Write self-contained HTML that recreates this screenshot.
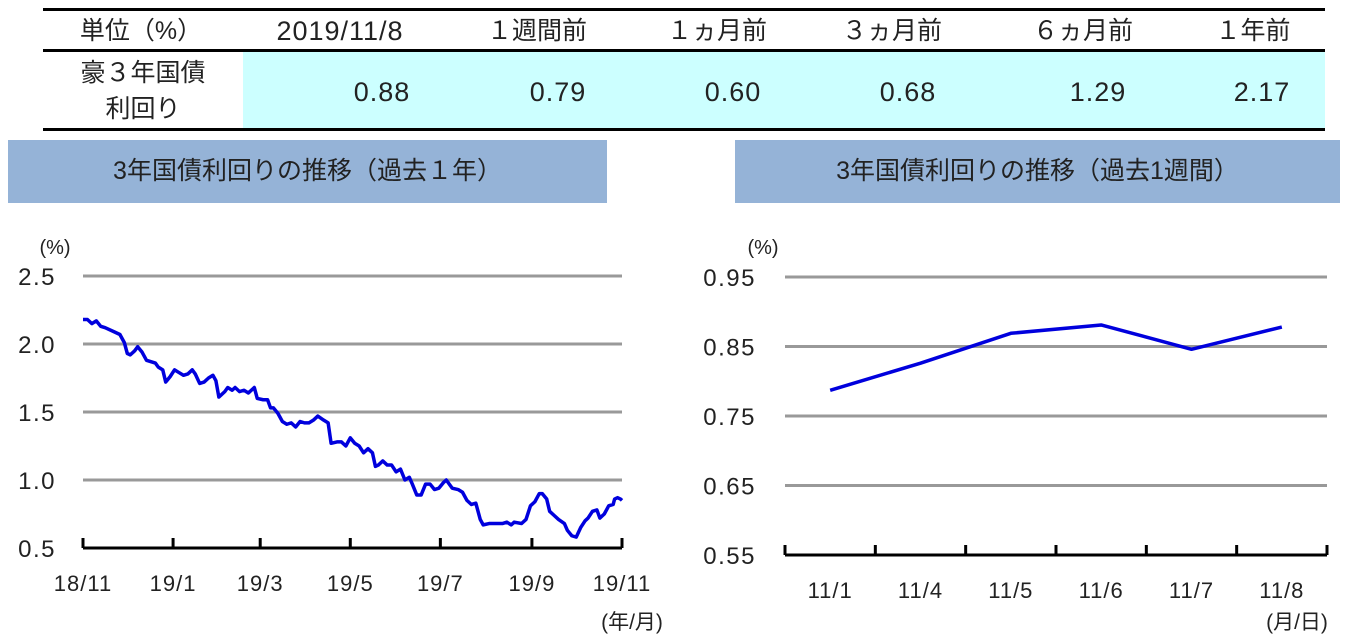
<!DOCTYPE html>
<html><head><meta charset="utf-8">
<style>
body{margin:0;width:1346px;height:636px;background:#fff;font-family:"Liberation Sans","Noto Sans CJK JP",sans-serif;overflow:hidden;position:relative}
.t{position:absolute;color:#222;text-align:center;width:200px;margin-left:-100px;line-height:30px;white-space:nowrap}
.h{top:16px;font-size:25px}
.v{top:77px;font-size:27px;letter-spacing:1px}
</style></head><body>
<div>
<div style="position:absolute;left:43px;top:8px;width:1282px;height:3px;background:#000"></div>
<div style="position:absolute;left:43px;top:49px;width:1282px;height:3px;background:#000"></div>
<div style="position:absolute;left:243px;top:52px;width:1082px;height:76px;background:#ccffff"></div>
<div style="position:absolute;left:43px;top:128px;width:1282px;height:3px;background:#000"></div>
<div class="t h" style="left:141px">単位（%）</div>
<div class="t h" style="left:340px;font-size:27px;letter-spacing:1px">2019/11/8</div>
<div class="t h" style="left:537px">１週間前</div>
<div class="t h" style="left:717px">１ヵ月前</div>
<div class="t h" style="left:892px">３ヵ月前</div>
<div class="t h" style="left:1083px">６ヵ月前</div>
<div class="t h" style="left:1253px">１年前</div>
<div class="t" style="left:143px;top:55px;font-size:25px;line-height:36px">豪３年国債<br>利回り</div>
<div class="t v" style="left:382px">0.88</div>
<div class="t v" style="left:558px">0.79</div>
<div class="t v" style="left:733px">0.60</div>
<div class="t v" style="left:908px">0.68</div>
<div class="t v" style="left:1098px">1.29</div>
<div class="t v" style="left:1262px">2.17</div>
</div>
<div style="position:absolute;left:8px;top:140px;width:599px;height:63px;background:#95b3d7;font-size:25px;line-height:63px;text-align:center;color:#222">3年国債利回りの推移（過去１年）</div>
<div style="position:absolute;left:735px;top:140px;width:605px;height:63px;background:#95b3d7;font-size:25px;line-height:63px;text-align:center;color:#222">3年国債利回りの推移（過去1週間）</div>
<svg id="c" width="1346" height="636" style="position:absolute;left:0;top:0;font-family:'Liberation Sans','Noto Sans CJK JP',sans-serif" fill="#222"></svg>
<script>
// Left chart data (day offset from 2018/11/8, yield %)
const yearDays=[0,3,6,9,12,15,21,25,28,30,32,35,37,40,43,46,49,51,54,56,59,62,65,68,71,74,76,79,82,85,88,90,92,96,98,101,103,106,109,112,115,116,118,122,125,127,129,132,135,138,141,144,147,150,153,156,159,163,166,168,172,175,178,181,184,187,190,193,196,198,200,203,206,209,212,215,218,221,223,226,229,232,235,238,241,244,246,250,254,257,260,263,266,269,271,275,279,284,287,290,292,297,300,303,306,309,311,314,316,319,322,326,328,331,334,337,340,342,345,348,350,353,356,359,360,362,364,365];
const yearValues=[2.18,2.18,2.15,2.17,2.13,2.12,2.09,2.07,2.01,1.93,1.92,1.95,1.98,1.94,1.88,1.87,1.86,1.83,1.81,1.72,1.76,1.81,1.79,1.77,1.78,1.81,1.78,1.71,1.72,1.75,1.77,1.73,1.61,1.65,1.68,1.66,1.68,1.65,1.66,1.64,1.67,1.68,1.60,1.59,1.59,1.53,1.53,1.49,1.43,1.41,1.42,1.39,1.43,1.42,1.42,1.44,1.47,1.44,1.42,1.27,1.28,1.28,1.25,1.31,1.27,1.25,1.20,1.23,1.20,1.10,1.11,1.14,1.11,1.11,1.06,1.08,1.00,1.02,0.97,0.89,0.89,0.97,0.97,0.93,0.94,0.98,1.00,0.94,0.93,0.91,0.85,0.82,0.83,0.71,0.67,0.68,0.68,0.68,0.69,0.67,0.69,0.68,0.71,0.81,0.84,0.90,0.90,0.86,0.77,0.74,0.71,0.68,0.63,0.59,0.58,0.65,0.70,0.72,0.77,0.78,0.72,0.75,0.81,0.82,0.86,0.87,0.86,0.85];
const yearTicks=["18/11","19/1","19/3","19/5","19/7","19/9","19/11"];
const yearTickDays=[0,61,120,181,242,304,365];
const yearYTicks=[0.5,1.0,1.5,2.0,2.5];
// Right chart data
const weekCats=["11/1","11/4","11/5","11/6","11/7","11/8"];
const weekValues=[0.787,0.826,0.869,0.881,0.846,0.878];
const weekYTicks=[0.55,0.65,0.75,0.85,0.95];

const svg=document.getElementById('c');
const NS='http://www.w3.org/2000/svg';
function mk(tag,attrs,parent){const e=document.createElementNS(NS,tag);for(const k in attrs)e.setAttribute(k,attrs[k]);(parent||svg).appendChild(e);return e;}
function txt(x,y,s,size,anchor,parent,ls){const e=mk('text',{x:x,y:y,'text-anchor':anchor},parent);e.style.fontSize=size+'px';if(ls)e.style.letterSpacing=ls+'px';e.textContent=s;return e;}

// Left chart
const L={x0:83,x1:622,y0:548,y1:276,vmin:0.5,vmax:2.5,dmax:365};
const lx=d=>L.x0+(d/L.dmax)*(L.x1-L.x0);
const ly=v=>L.y0-(v-L.vmin)/(L.vmax-L.vmin)*(L.y0-L.y1);
const gL=mk('g',{});


yearYTicks.forEach(v=>{
  if(v>L.vmin){const g=mk('line',{x1:L.x0,x2:L.x1,y1:ly(v),y2:ly(v),stroke:'#999','stroke-width':3},gL);
  
  }
  const t=txt(56,ly(v)+9,v.toFixed(1),24,'end',gL,1.5);
  
  
});
const ya=txt(55,254,'(%)',20,'middle',gL);


const axL=mk('line',{x1:L.x0,x2:L.x1,y1:L.y0,y2:L.y0,stroke:'#000','stroke-width':3},gL);


yearTicks.forEach((s,i)=>{
  const x=lx(yearTickDays[i]);
  const tk=mk('line',{x1:x,x2:x,y1:L.y0,y2:L.y0-10,stroke:'#000','stroke-width':3},gL);
  
  
  const t=txt(x,591,s,22,'middle',gL,1);
  
  
});
const xu=txt(632,629,'(年/月)',21,'middle',gL);


const pL=mk('polyline',{points:yearDays.map((d,i)=>lx(d)+','+ly(yearValues[i])).join(' '),fill:'none',stroke:'#0000dd','stroke-width':3.5,'stroke-linejoin':'round'},gL);



// Right chart
const R={x0:785,x1:1327,y0:555,y1:277,vmin:0.55,vmax:0.95};
const bw=(R.x1-R.x0)/weekCats.length;
const rx=i=>R.x0+bw*(i+0.5);
const ry=v=>R.y0-(v-R.vmin)/(R.vmax-R.vmin)*(R.y0-R.y1);
const gR=mk('g',{});


weekYTicks.forEach(v=>{
  if(v>R.vmin){const g=mk('line',{x1:R.x0,x2:R.x1,y1:ry(v),y2:ry(v),stroke:'#999','stroke-width':3},gR);
  
  }
  const t=txt(756,ry(v)+9,v.toFixed(2),24,'end',gR,1.5);
  
  
});
const yb=txt(763,254,'(%)',20,'middle',gR);


const axR=mk('line',{x1:R.x0,x2:R.x1,y1:R.y0,y2:R.y0,stroke:'#000','stroke-width':3},gR);


for(let i=0;i<=weekCats.length;i++){
  const x=R.x0+bw*i;
  const tk=mk('line',{x1:x,x2:x,y1:R.y0,y2:R.y0-10,stroke:'#000','stroke-width':3},gR);
  
  
}
weekCats.forEach((s,i)=>{
  const t=txt(rx(i),598,s,22,'middle',gR,1);
  
  
});
const xv=txt(1297,629,'(月/日)',21,'middle',gR);


const pR=mk('polyline',{points:weekValues.map((v,i)=>rx(i)+','+ry(v)).join(' '),fill:'none',stroke:'#0000dd','stroke-width':3.5,'stroke-linejoin':'round'},gR);


</script>
</body></html>
